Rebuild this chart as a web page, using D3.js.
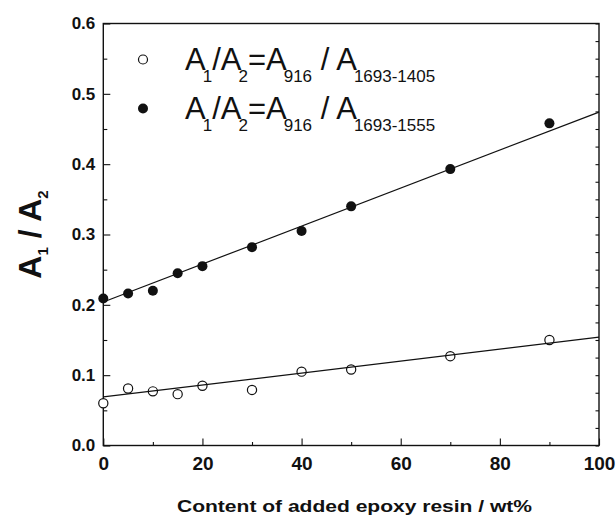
<!DOCTYPE html>
<html>
<head>
<meta charset="utf-8">
<script src="https://cdn.jsdelivr.net/npm/d3@7"></script>
<style>
  html, body { margin: 0; padding: 0; background: #fff; }
  svg { display: block; }
</style>
</head>
<body>
<div id="chart"></div>
<script>
// epoxy content (wt%) and the two band ratios
var contents = [0, 5, 10, 15, 20, 30, 40, 50, 70, 90];
var ratio1405 = [0.060, 0.081, 0.077, 0.073, 0.085, 0.079, 0.105, 0.108, 0.127, 0.150];
var ratio1555 = [0.209, 0.216, 0.220, 0.245, 0.255, 0.282, 0.305, 0.340, 0.393, 0.458];

// linear fit lines, value at x = 0 and x = 100
var fitX = [0, 100];
var fit1405 = [0.069, 0.154];
var fit1555 = [0.204, 0.474];

var xMajor = [0, 20, 40, 60, 80, 100];
var xMinor = [10, 30, 50, 70, 90];
var yMajor = [0, 0.1, 0.2, 0.3, 0.4, 0.5, 0.6];
var yMinor = [0.05, 0.15, 0.25, 0.35, 0.45, 0.55];
var yRightMinor = d3.range(0, 0.6001, 0.025);

var width = 616,
  height = 520,
  plotLeft = 103.3,
  plotRight = 599,
  plotTop = 23.5,
  plotBottom = 445.5,
  ink = '#111';

var svg = d3.select('#chart').append('svg')
  .attr('width', width)
  .attr('height', height)
  .style('font-family', '"Liberation Sans", Arial, sans-serif');

var x = d3.scaleLinear().domain([0, 100]).range([plotLeft, plotRight]);
var y = d3.scaleLinear().domain([0, 0.6]).range([plotBottom, plotTop]);

// axes, ticks pointing inward
var gx = svg.append('g')
  .attr('transform', 'translate(0,' + plotBottom + ')')
  .call(d3.axisBottom(x).tickValues(xMajor).tickSize(-7).tickPadding(11).tickFormat(d3.format('d')));
gx.selectAll('text').style('font-size', '19px').style('font-weight', 'bold').attr('fill', ink);

svg.append('g')
  .attr('transform', 'translate(0,' + plotBottom + ')')
  .call(d3.axisBottom(x).tickValues(xMinor).tickSize(-3.5).tickFormat(''));

var gy = svg.append('g')
  .attr('transform', 'translate(' + plotLeft + ',0)')
  .call(d3.axisLeft(y).tickValues(yMajor).tickSize(-7).tickPadding(8).tickFormat(d3.format('.1f')));
gy.selectAll('text').style('font-size', '17px').style('font-weight', 'bold').attr('fill', ink);

svg.append('g')
  .attr('transform', 'translate(' + plotLeft + ',0)')
  .call(d3.axisLeft(y).tickValues(yMinor).tickSize(-4).tickFormat(''));

svg.append('g')
  .attr('transform', 'translate(' + plotRight + ',0)')
  .call(d3.axisRight(y).tickValues(yRightMinor).tickSize(-3.5).tickFormat(''));

svg.selectAll('.domain').remove();
svg.selectAll('.tick line').attr('stroke', ink).attr('stroke-width', 1.1);

svg.append('rect')
  .attr('x', plotLeft)
  .attr('y', plotTop)
  .attr('width', plotRight - plotLeft)
  .attr('height', plotBottom - plotTop)
  .attr('fill', 'none')
  .attr('stroke', ink)
  .attr('stroke-width', 1.4);

// data points
svg.append('g').selectAll('circle')
  .data(contents)
  .join('circle')
  .attr('cx', function(d) { return x(d); })
  .attr('cy', function(d, i) { return y(ratio1405[i]); })
  .attr('r', 4.6)
  .attr('fill', '#fff')
  .attr('stroke', ink)
  .attr('stroke-width', 1.2);

svg.append('g').selectAll('circle')
  .data(contents)
  .join('circle')
  .attr('cx', function(d) { return x(d); })
  .attr('cy', function(d, i) { return y(ratio1555[i]); })
  .attr('r', 5)
  .attr('fill', ink);

// fit lines drawn on top of the markers
var line = d3.line()
  .x(function(d) { return x(d[0]); })
  .y(function(d) { return y(d[1]); });

[fit1405, fit1555].forEach(function(fit) {
  svg.append('path')
    .datum(d3.zip(fitX, fit))
    .attr('d', line)
    .attr('fill', 'none')
    .attr('stroke', ink)
    .attr('stroke-width', 1.2);
});

// legend
var legendRows = [
  { sub: '1693-1405', filled: false, base: 70 },
  { sub: '1693-1555', filled: true, base: 119 }
];

legendRows.forEach(function(row) {
  svg.append('circle')
    .attr('cx', 143)
    .attr('cy', row.base - 10.5)
    .attr('r', row.filled ? 5 : 4.5)
    .attr('fill', row.filled ? ink : '#fff')
    .attr('stroke', ink)
    .attr('stroke-width', row.filled ? 0 : 1.2);

  var t = svg.append('text')
    .attr('x', 185)
    .attr('y', row.base)
    .attr('fill', ink)
    .style('font-size', '31px')
    .style('white-space', 'pre');
  var parts = [
    ['A', false], ['1', true], ['/A', false], ['2', true],
    ['=A', false], ['916', true], [' / A', false], [row.sub, true]
  ];
  parts.forEach(function(p, i) {
    var s = t.append('tspan').text(p[0]);
    if (p[1]) {
      s.attr('dx', -3).attr('dy', 12).style('font-size', '17px');
    } else if (i > 0) {
      s.attr('dy', -12);
    }
  });
});

// axis titles
svg.append('text')
  .attr('x', 177)
  .attr('y', 512)
  .attr('textLength', 355)
  .attr('lengthAdjust', 'spacingAndGlyphs')
  .attr('fill', ink)
  .style('font-size', '16px')
  .style('font-weight', 'bold')
  .text('Content of added epoxy resin / wt%');

var yt = svg.append('text')
  .attr('transform', 'translate(41,' + ((plotTop + plotBottom) / 2) + ') rotate(-90)')
  .attr('text-anchor', 'middle')
  .attr('fill', ink)
  .style('font-size', '32px')
  .style('font-weight', 'bold')
  .style('white-space', 'pre');
yt.append('tspan').text('A');
yt.append('tspan').text('1').attr('dy', 7).style('font-size', '15px');
yt.append('tspan').text(' / A').attr('dy', -7);
yt.append('tspan').text('2').attr('dy', 7).style('font-size', '15px');
</script>
</body>
</html>
